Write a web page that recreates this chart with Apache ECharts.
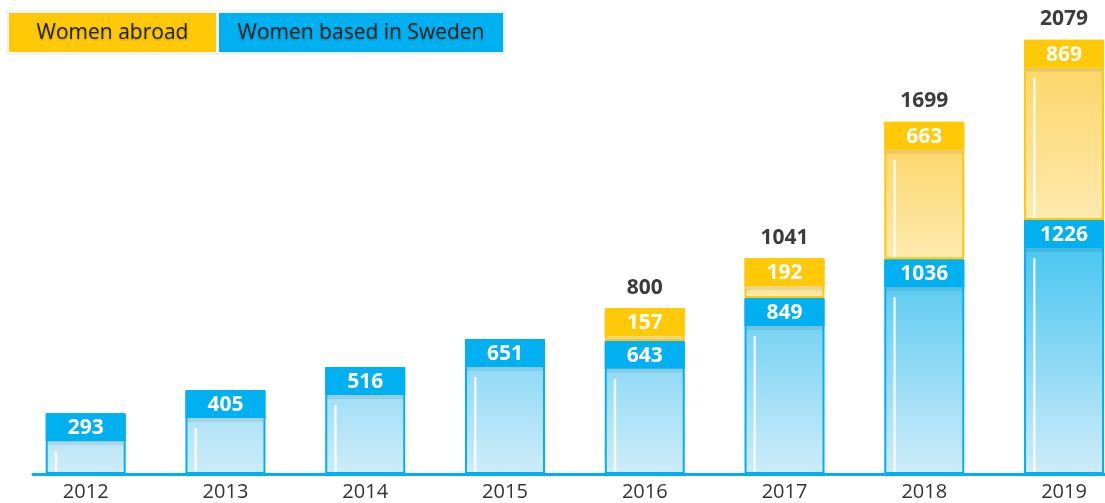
<!DOCTYPE html>
<html>
<head>
<meta charset="utf-8">
<script src="https://cdn.jsdelivr.net/npm/echarts@6/dist/echarts.min.js"></script>
<style>
  html, body { margin: 0; padding: 0; background: #fff; }
  #main { width: 1105px; height: 503px; }
</style>
</head>
<body>
<div id="main"></div>
<script>
// data
const years = ["2012", "2013", "2014", "2015", "2016", "2017", "2018", "2019"];
const sweden = [293, 405, 516, 651, 643, 849, 1036, 1226];
const abroad = [0, 0, 0, 0, 157, 192, 663, 869];
// totals as printed above the bars (2019 is printed as 2079 in the source)
const totals = [null, null, null, null, 800, 1041, 1699, 2079];
const legendNames = ["Women abroad", "Women based in Sweden"];

const BLUE = "#00b0f0";
const YELLOW = "#ffc907";
const FONT = "'Open Sans', 'Noto Sans', sans-serif";

var myChart = echarts.init(document.getElementById("main"));

// one segment of a stacked bar: coloured header band with the value, gradient body below
function makeRender(color, kind) {
  return function (params, api) {
    const i = api.value(0);
    const lo = api.value(1);
    const hi = api.value(2);
    if (!(hi > lo)) return;
    const pLo = api.coord([i, lo]);
    const pHi = api.coord([i, hi]);
    const base = api.coord([0, 0])[1];
    const w = 80;
    const x = pLo[0] - w / 2;
    const yTop = pHi[1];
    const yBot = pLo[1];
    const h = yBot - yTop;
    const head = Math.min(28, h);

    let fill;
    if (kind === "blue") {
      // blue is shaded over the whole chart height
      fill = {
        type: "linear", x: 0, y: api.coord([0, 1200])[1], x2: 0, y2: base, global: true,
        colorStops: [{ offset: 0, color: "#3dc2f0" }, { offset: 1, color: "#cfecf9" }]
      };
    } else {
      fill = {
        type: "linear", x: 0, y: 0, x2: 0, y2: 1,
        colorStops: [{ offset: 0, color: "#fdd35c" }, { offset: 1, color: "#fdeab0" }]
      };
    }

    const children = [
      {
        type: "rect",
        shape: { x: x + 1, y: yTop + 1, width: w - 2, height: h - 2 },
        style: { fill: fill, stroke: color, lineWidth: 2 }
      }
    ];
    if (h - head > 3) {
      children.push({
        type: "rect",
        shape: { x: x + 2, y: yTop + head, width: w - 4, height: Math.min(4, h - head - 2) },
        style: { fill: "rgba(0,0,0,0.07)" }
      });
    }
    if (h - head > 14) {
      children.push({
        type: "rect",
        shape: { x: x + 9, y: yTop + head + 10, width: 2.5, height: h - head - 12 },
        style: { fill: "rgba(255,255,255,0.8)" }
      });
    }
    children.push({
      type: "rect",
      shape: { x: x, y: yTop, width: w, height: head, r: [2, 2, 0, 0] },
      style: { fill: color }
    });
    children.push({
      type: "text",
      style: {
        x: pLo[0], y: yTop + head / 2 + 1,
        text: String(hi - lo),
        align: "center", verticalAlign: "middle",
        font: "bold 21px " + FONT,
        fill: "#fff"
      }
    });
    if (kind === "yellow" && totals[i] != null) {
      children.push({
        type: "text",
        style: {
          x: pLo[0], y: yTop - 10,
          text: String(totals[i]),
          align: "center", verticalAlign: "bottom",
          font: "bold 21px " + FONT,
          fill: "#3c3c3c"
        }
      });
    }
    return { type: "group", children: children };
  };
}

const swedenData = years.map((y, i) => [i, 0, sweden[i]]);
const abroadData = years.map((y, i) => [i, sweden[i], sweden[i] + abroad[i]]);

function legendBox(x, w, color, text) {
  return {
    type: "group",
    children: [
      { type: "rect", shape: { x: x, y: 13, width: w, height: 39 }, style: { fill: color } },
      {
        type: "text",
        style: {
          x: x + w / 2, y: 33, text: text,
          align: "center", verticalAlign: "middle",
          font: "21px " + FONT, fill: "#222",
          textShadowColor: "rgba(0,0,0,0.25)", textShadowBlur: 2, textShadowOffsetY: 1
        }
      }
    ]
  };
}

var option = {
  animation: false,
  grid: { left: 33, right: 0, top: 18, bottom: 29 },
  xAxis: {
    type: "value",
    min: -0.377,
    max: 7.293,
    splitLine: { show: false },
    axisLine: { show: true, lineStyle: { color: BLUE, width: 3 } },
    axisTick: { show: false },
    axisLabel: {
      customValues: years.map((y, i) => i),
      formatter: (v) => years[Math.round(v)],
      color: "#333", fontSize: 20, fontFamily: FONT, margin: 8
    }
  },
  yAxis: {
    type: "value",
    min: 0,
    max: 2200,
    show: false,
    splitLine: { show: false }
  },
  graphic: [
    { type: "rect", shape: { x: 6, y: 10, width: 500, height: 45 }, style: { fill: "#f2f3f5" } },
    legendBox(9, 207, YELLOW, legendNames[0]),
    legendBox(219, 284, BLUE, legendNames[1])
  ],
  series: [
    {
      name: legendNames[1],
      type: "custom",
      renderItem: makeRender(BLUE, "blue"),
      encode: { x: 0, y: [1, 2] },
      data: swedenData,
      z: 2
    },
    {
      name: legendNames[0],
      type: "custom",
      renderItem: makeRender(YELLOW, "yellow"),
      encode: { x: 0, y: [1, 2] },
      data: abroadData,
      z: 3
    }
  ]
};

myChart.setOption(option);
</script>
</body>
</html>
